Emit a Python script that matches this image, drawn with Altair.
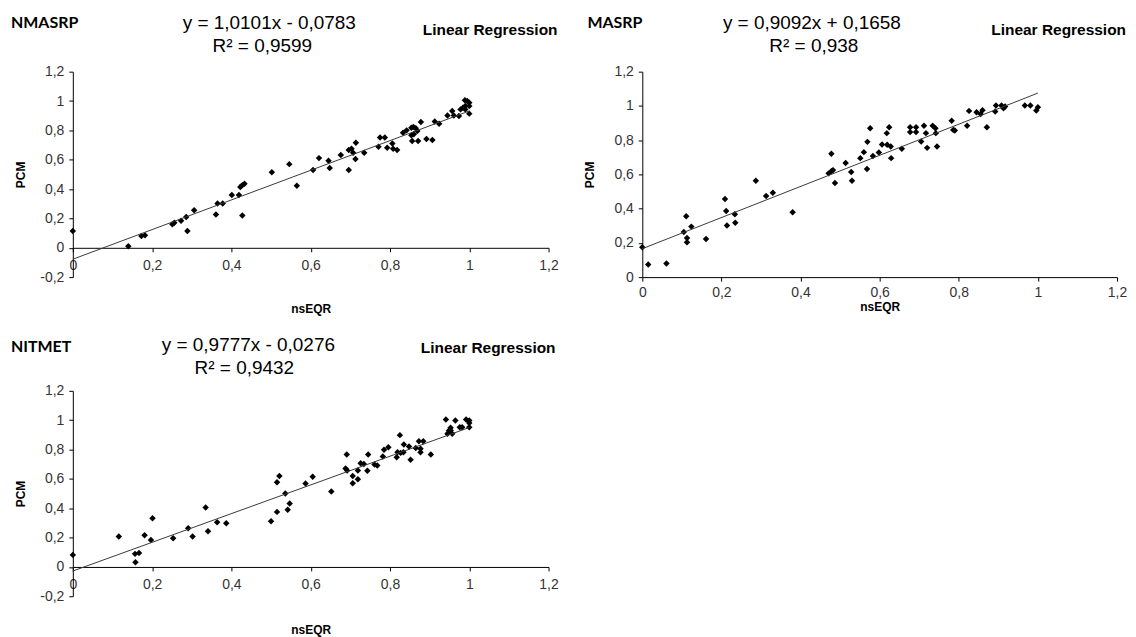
import altair as alt
import pandas as pd

# ---------------- data ----------------
# Panel 1: NMASRP
nm_x = [0.0, 0.14, 0.173, 0.182, 0.251, 0.256, 0.273, 0.286, 0.289, 0.306, 0.361, 0.365, 0.378,
        0.401, 0.419, 0.4225, 0.4275, 0.433, 0.4275, 0.502, 0.546, 0.565, 0.606, 0.621, 0.645,
        0.648, 0.676, 0.696, 0.703, 0.707, 0.714, 0.713, 0.696, 0.735, 0.771, 0.775, 0.787, 0.793,
        0.806, 0.808, 0.818, 0.833, 0.842, 0.854, 0.859, 0.865, 0.854, 0.86, 0.869, 0.856, 0.871,
        0.878, 0.892, 0.907, 0.913, 0.924, 0.945, 0.957, 0.961, 0.974, 0.978, 0.989, 0.995, 1.0,
        1.0, 0.99, 1.0, 0.99, 0.984]
nm_y = [0.115, 0.01, 0.08, 0.086, 0.16, 0.17, 0.184, 0.21, 0.114, 0.255, 0.227, 0.302, 0.302,
        0.359, 0.359, 0.414, 0.427, 0.436, 0.22, 0.514, 0.57, 0.423, 0.53, 0.611, 0.593,
        0.543, 0.632, 0.666, 0.675, 0.648, 0.716, 0.605, 0.53, 0.648, 0.689, 0.752, 0.752, 0.682,
        0.711, 0.675, 0.666, 0.784, 0.8, 0.818, 0.823, 0.814, 0.766, 0.773, 0.795, 0.727, 0.727,
        0.857, 0.741, 0.734, 0.861, 0.845, 0.902, 0.932, 0.902, 0.898, 0.943, 1.005, 1.0, 0.989,
        0.966, 0.966, 0.914, 0.943, 0.955]
nm_trend_x = [0.0, 1.0]
nm_trend_y = [-0.078, 0.932]

# Panel 2: MASRP
ma_x = [0.0, 0.015, 0.061, 0.105, 0.111, 0.113, 0.113, 0.124, 0.161, 0.209, 0.212, 0.214, 0.234,
        0.235, 0.287, 0.313, 0.33, 0.38, 0.471, 0.478, 0.482, 0.478, 0.487, 0.514, 0.528, 0.53,
        0.551, 0.56, 0.569, 0.568, 0.576, 0.583, 0.598, 0.606, 0.618, 0.624, 0.619, 0.628, 0.629,
        0.656, 0.677, 0.677, 0.692, 0.692, 0.705, 0.712, 0.717, 0.72, 0.734, 0.741, 0.742, 0.745,
        0.782, 0.786, 0.79, 0.821, 0.826, 0.845, 0.855, 0.86, 0.871, 0.892, 0.894, 0.908, 0.913,
        0.917, 0.967, 0.981, 0.996, 1.0]
ma_y = [0.175, 0.074, 0.08, 0.264, 0.355, 0.229, 0.204, 0.295, 0.223, 0.456, 0.386, 0.301, 0.367,
        0.318, 0.563, 0.474, 0.493, 0.379, 0.606, 0.619, 0.625, 0.72, 0.55, 0.666, 0.614, 0.563,
        0.695, 0.73, 0.79, 0.631, 0.87, 0.707, 0.728, 0.775, 0.841, 0.876, 0.773, 0.763, 0.695,
        0.75, 0.876, 0.847, 0.876, 0.847, 0.792, 0.884, 0.841, 0.755, 0.884, 0.87, 0.841, 0.763,
        0.913, 0.86, 0.856, 0.884, 0.971, 0.963, 0.953, 0.975, 0.876, 0.967, 1.002, 1.002, 0.986,
        0.996, 1.002, 1.002, 0.973, 0.992]
ma_trend_x = [0.0, 1.0]
ma_trend_y = [0.166, 1.075]

# Panel 3: NITMET
ni_x = [0.0, 0.116, 0.157, 0.158, 0.167, 0.181, 0.197, 0.201, 0.253, 0.291, 0.302, 0.335, 0.341,
        0.364, 0.387, 0.5, 0.515, 0.521, 0.515, 0.536, 0.542, 0.547, 0.587, 0.605, 0.652, 0.691,
        0.688, 0.692, 0.706, 0.706, 0.719, 0.719, 0.726, 0.734, 0.745, 0.743, 0.761, 0.768, 0.782,
        0.785, 0.796, 0.817, 0.819, 0.827, 0.834, 0.825, 0.835, 0.848, 0.852, 0.865, 0.873, 0.877,
        0.877, 0.884, 0.903, 0.941, 0.945, 0.949, 0.953, 0.957, 0.953, 0.965, 0.976, 0.982, 0.992,
        1.0, 1.0, 1.0]
ni_y = [0.082, 0.207, 0.089, 0.032, 0.095, 0.216, 0.184, 0.332, 0.195, 0.264, 0.207, 0.405, 0.243,
        0.305, 0.298, 0.311, 0.577, 0.62, 0.375, 0.5, 0.389, 0.432, 0.568, 0.614, 0.514, 0.766,
        0.67, 0.657, 0.62, 0.57, 0.657, 0.598, 0.707, 0.702, 0.766, 0.655, 0.698, 0.691, 0.752,
        0.798, 0.816, 0.748, 0.782, 0.777, 0.782, 0.898, 0.834, 0.82, 0.73, 0.811, 0.857, 0.805,
        0.782, 0.857, 0.766, 1.005, 0.907, 0.93, 0.93, 0.907, 0.948, 0.998, 0.952, 0.952, 1.005,
        0.998, 0.952, 0.98]
ni_trend_x = [0.0, 1.0]
ni_trend_y = [-0.028, 0.950]

x_ticks = [0, 0.2, 0.4, 0.6, 0.8, 1.0, 1.2]
y_ticks_neg = [-0.2, 0, 0.2, 0.4, 0.6, 0.8, 1.0, 1.2]
y_ticks_pos = [0, 0.2, 0.4, 0.6, 0.8, 1.0, 1.2]

titles = ["NMASRP", "MASRP", "NITMET"]
equations = ["y = 1,0101x - 0,0783", "y = 0,9092x + 0,1658", "y = 0,9777x - 0,0276"]
r2_texts = ["R² = 0,9599", "R² = 0,938", "R² = 0,9432"]
method = "Linear Regression"

FONT = "Liberation Sans"
LABEL_EXPR = "replace(toString(round(datum.value*10)/10), '.', ',')"


def text_layer(txt, x, y, align, size, bold, font=FONT):
    return alt.Chart(pd.DataFrame({"t": [txt]})).mark_text(
        align=align, baseline="middle", font=font, fontSize=size,
        fontWeight="bold" if bold else "normal", color="black"
    ).encode(text="t:N", x=alt.value(x), y=alt.value(y))


def panel(px, py, tx, ty, ydom, yticks, name, eq, r2, pos, w, h,
          xoffset, xlabpad, xtitlepad, ytitlepad):
    pts = pd.DataFrame({"nsEQR": px, "PCM": py})
    trend = pd.DataFrame({"nsEQR": tx, "PCM": ty})
    xs = alt.Scale(domain=[0, 1.2], nice=False, zero=False)
    ys = alt.Scale(domain=ydom, nice=False, zero=False)
    xaxis = alt.Axis(values=x_ticks, labelExpr=LABEL_EXPR, offset=xoffset,
                     labelPadding=xlabpad, titlePadding=xtitlepad, labelFlush=False,
                     labelOverlap=False, grid=False)
    yaxis = alt.Axis(values=yticks, labelExpr=LABEL_EXPR, labelPadding=5,
                     titlePadding=ytitlepad, labelOverlap=False, labelFlush=False,
                     labelBound=False, grid=False)
    points = alt.Chart(pts).mark_point(
        shape="diamond", filled=True, color="black", size=42, opacity=1
    ).encode(
        x=alt.X("nsEQR:Q", scale=xs, axis=xaxis, title="nsEQR"),
        y=alt.Y("PCM:Q", scale=ys, axis=yaxis, title="PCM"),
    )
    line = alt.Chart(trend).mark_line(color="#3a3a3a", strokeWidth=1).encode(
        x=alt.X("nsEQR:Q", scale=xs, axis=xaxis, title="nsEQR"),
        y=alt.Y("PCM:Q", scale=ys, axis=yaxis, title="PCM"),
    )
    t1 = text_layer(name, pos[0][0], pos[0][1], "left", 16, True, font="Lato")
    t2 = text_layer(eq, pos[1][0], pos[1][1], "center", 19, False)
    t3 = text_layer(r2, pos[2][0], pos[2][1], "center", 19, False)
    t4 = text_layer(method, pos[3][0], pos[3][1], "right", 15.5, True)
    return alt.layer(points, line, t1, t2, t3, t4).properties(width=w, height=h)


p1 = panel(nm_x, nm_y, nm_trend_x, nm_trend_y, [-0.2, 1.2], y_ticks_neg,
           titles[0], equations[0], r2_texts[0],
           [(-62, -49), (197, -49), (190, -26), (486, -42)],
           477, 206, -29.4, 7, 31, 12)
p2 = panel(ma_x, ma_y, ma_trend_x, ma_trend_y, [0, 1.2], y_ticks_pos,
           titles[1], equations[1], r2_texts[1],
           [(-55, -49), (170, -49), (172, -26), (485, -42)],
           476, 206, 0, 4, 2, 17)
p3 = panel(ni_x, ni_y, ni_trend_x, ni_trend_y, [-0.2, 1.2], y_ticks_neg,
           titles[2], equations[2], r2_texts[2],
           [(-62, -44), (176, -46), (172, -23), (484, -43)],
           477, 206, -29.4, 7, 33, 12)

chart = alt.concat(p1, p2, p3, columns=2, spacing={"row": 114, "column": 94},
                   bounds="flush").properties(
    padding={"left": 2, "top": 4, "right": 0, "bottom": 0}
).configure_view(stroke="transparent").configure_axis(
    domainColor="black", domainWidth=1, tickColor="black", tickSize=4, tickWidth=1,
    labelFont=FONT, labelFontSize=14, labelColor="#333333", labelOverlap=False,
    titleFont=FONT, titleFontSize=12, titleFontWeight="bold", titleColor="black",
)

chart.save("out.html", embed_options={"renderer": "svg", "actions": False})
